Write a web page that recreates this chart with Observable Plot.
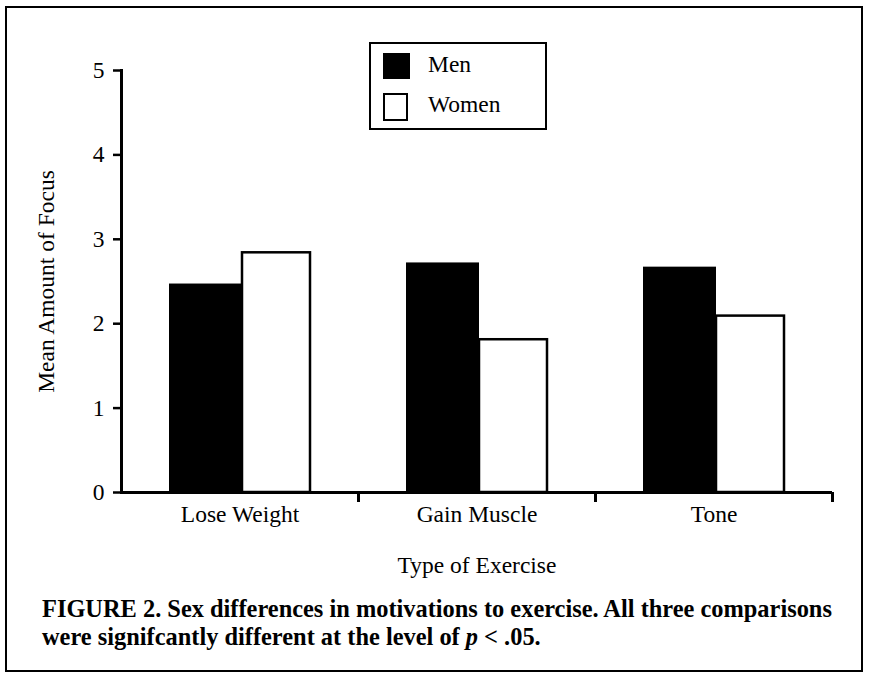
<!DOCTYPE html>
<html>
<head>
<meta charset="utf-8">
<script src="https://cdn.jsdelivr.net/npm/d3@7"></script>
<script src="https://cdn.jsdelivr.net/npm/@observablehq/plot@0.6"></script>
<style>
  html, body { margin: 0; padding: 0; background: #fff; }
  #wrap { position: relative; width: 870px; height: 677px; font-family: "Liberation Serif", "Times New Roman", serif; color: #000; }
  #border { position: absolute; left: 5px; top: 6px; width: 854px; height: 662px; border: 2.5px solid #000; }
  #chart { position: absolute; left: 0; top: 0; }
  #legend { position: absolute; left: 369px; top: 42px; width: 174px; height: 84px; border: 2.5px solid #000; background: #fff; }
  .item { position: absolute; left: 12px; height: 28px; font-size: 23.5px; line-height: 28px; }
  .sw { position: absolute; left: 0; top: 0; width: 27px; height: 26px; box-sizing: border-box; }
  .lab { position: absolute; left: 45px; top: -3px; white-space: nowrap; }
  #caption { position: absolute; left: 42px; top: 595px; width: 820px; font-weight: bold; font-size: 24.4px; line-height: 28px; white-space: nowrap; }
</style>
</head>
<body>
<div id="wrap">
  <div id="border"></div>
  <div id="chart"></div>
  <div id="legend"></div>
  <div id="caption">FIGURE 2. Sex differences in motivations to exercise. All three comparisons<br>were signifcantly different at the level of <i>p</i> &lt; .05.</div>
</div>
<script>
const categories = ["Lose Weight", "Gain Muscle", "Tone"];
const groups = ["Men", "Women"];
const men = [2.47, 2.72, 2.67];
const women = [2.84, 1.81, 2.09];
const yTicks = [0, 1, 2, 3, 4, 5];

const menRows = categories.map((c, i) => ({category: c, group: groups[0], value: men[i]}));
const womenRows = categories.map((c, i) => ({category: c, group: groups[1], value: women[i]}));

const plot = Plot.plot({
  width: 870,
  height: 580,
  marginLeft: 121,
  marginRight: 38,
  marginTop: 70,
  marginBottom: 88,
  style: {fontFamily: "Liberation Serif, Times New Roman, serif", fontSize: "23.5px", color: "#000", background: "transparent"},
  x: {domain: categories, padding: 0},
  y: {domain: [0, 5]},
  marks: [
    Plot.barY(womenRows, {x: "category", y: "value", fill: "white", stroke: "black", strokeWidth: 2.5, insetLeft: 121, insetRight: 48}),
    Plot.barY(menRows, {x: "category", y: "value", fill: "black", insetLeft: 48, insetRight: 116}),
    Plot.axisX({tickSize: 0, tickPadding: 13, fontSize: 23.5, label: "Type of Exercise", labelAnchor: "center", labelOffset: 80, labelArrow: "none"}),
    Plot.axisY({ticks: yTicks, tickFormat: d3.format("d"), tickSize: 8, tickPadding: 9, strokeWidth: 2.5, fontSize: 23.5, label: "Mean Amount of Focus", labelAnchor: "center", labelOffset: 84, labelArrow: "none"}),
    Plot.frame({anchor: "left", strokeWidth: 3}),
    Plot.ruleY([0], {strokeWidth: 3}),
    Plot.ruleX(categories, {x: d => d, dx: 118.5, y1: 0, y2: 0, insetBottom: -10, strokeWidth: 3})
  ]
});
document.getElementById("chart").appendChild(plot);

const legend = document.getElementById("legend");
groups.forEach((g, i) => {
  const item = document.createElement("div");
  item.className = "item";
  item.style.top = (i === 0 ? 9 : 49) + "px";
  const sw = document.createElement("div");
  sw.className = "sw";
  if (i === 0) { sw.style.background = "#000"; }
  else { sw.style.background = "#fff"; sw.style.border = "2.5px solid #000"; sw.style.width = "25px"; sw.style.height = "28px"; }
  const lab = document.createElement("div");
  lab.className = "lab";
  lab.textContent = g;
  item.appendChild(sw);
  item.appendChild(lab);
  legend.appendChild(item);
});
</script>
</body>
</html>
